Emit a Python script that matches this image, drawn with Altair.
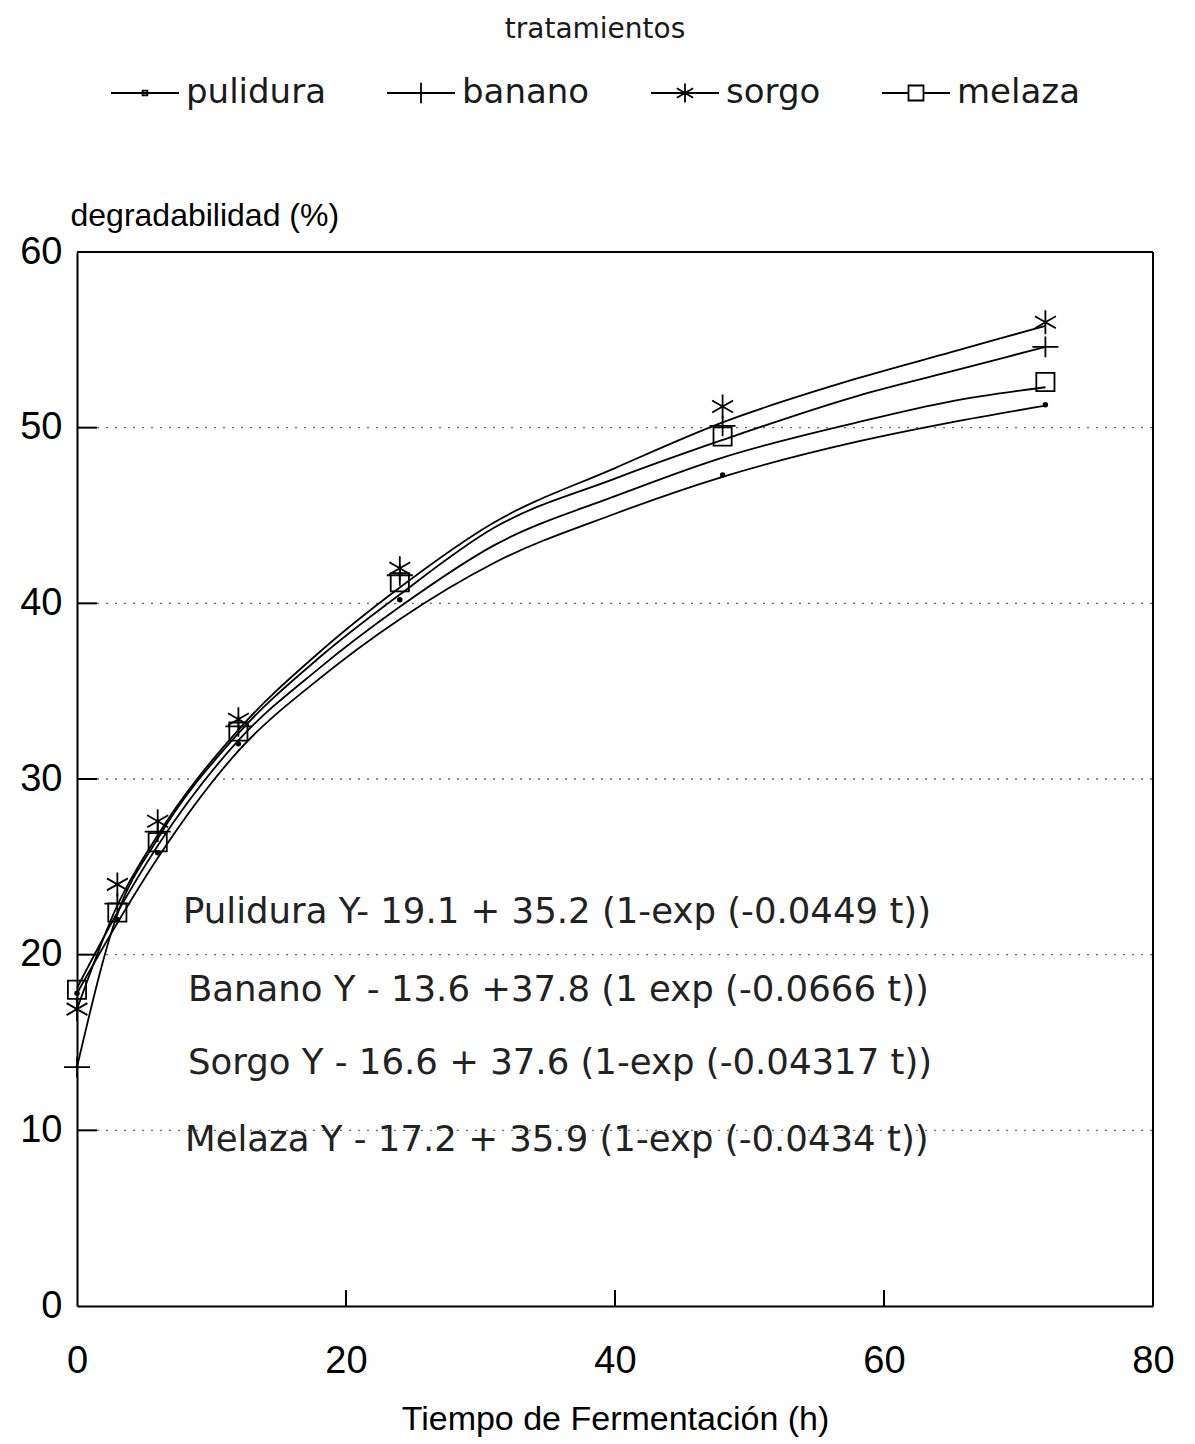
import altair as alt
import pandas as pd

treatments = ["pulidura", "banano", "sorgo", "melaza"]

# observed points (markers)
obs_t = [0, 3, 6, 12, 24, 48, 72]
obs_pulidura = [17.8, 22.0, 25.8, 32.0, 40.2, 47.3, 51.3]
obs_banano = [13.6, 22.9, 27.0, 33.0, 41.6, 50.1, 54.6]
obs_sorgo = [16.9, 24.0, 27.6, 33.4, 42.0, 51.2, 56.0]
obs_melaza = [18.0, 22.4, 26.4, 32.7, 41.2, 49.5, 52.6]

# fitted curves
fit_t = [0, 3, 6, 12, 18, 24, 31, 40, 48, 58, 65, 72]
fit_pulidura = [17.8, 21.8, 25.5, 31.6, 35.7, 39.1, 42.3, 45.1, 47.2, 49.2, 50.3, 51.25]
fit_banano = [13.6, 22.3, 26.6, 32.6, 36.9, 40.5, 44.3, 47.1, 49.3, 51.8, 53.2, 54.6]
fit_sorgo = [16.9, 22.8, 26.8, 32.8, 37.2, 40.9, 44.6, 47.7, 50.3, 52.8, 54.3, 55.8]
fit_melaza = [18.1, 22.4, 26.2, 32.2, 36.3, 39.8, 43.3, 46.1, 48.3, 50.3, 51.5, 52.3]

equations = [
    "Pulidura Y- 19.1 + 35.2 (1-exp (-0.0449 t))",
    "Banano Y - 13.6 +37.8 (1 exp (-0.0666 t))",
    "Sorgo Y - 16.6 + 37.6 (1-exp (-0.04317 t))",
    "Melaza Y - 17.2 + 35.9 (1-exp (-0.0434 t))",
]

y_ticks = [10, 20, 30, 40, 50]
x_ticks = [20, 40, 60]

obs_map = {"pulidura": obs_pulidura, "banano": obs_banano, "sorgo": obs_sorgo, "melaza": obs_melaza}
fit_map = {"pulidura": fit_pulidura, "banano": fit_banano, "sorgo": fit_sorgo, "melaza": fit_melaza}

obs_df = pd.DataFrame([
    {"trat": k, "t": t, "val": v}
    for k in treatments for t, v in zip(obs_t, obs_map[k])
])
fit_df = pd.DataFrame([
    {"trat": k, "t": t, "val": v}
    for k in treatments for t, v in zip(fit_t, fit_map[k])
])
ytick_df = pd.DataFrame({"val": y_ticks})
xtick_df = pd.DataFrame({"t": x_ticks})

W, H = 1076, 1054
FONT = "DejaVu Sans"
INK = "#1a1a1a"

X = alt.X(
    "t:Q",
    scale=alt.Scale(domain=[0, 80], nice=False, zero=False),
    axis=alt.Axis(
        title="Tiempo de Fermentación (h)",
        values=[0, 20, 40, 60, 80],
        format="d",
        tickSize=0,
        labelPadding=36,
        labelFontSize=38,
        labelFlush=False,
        labelOverlap=False,
        titleFontSize=34,
        titleFontWeight="normal",
        titlePadding=22,
        grid=False,
        domainColor="black",
        domainWidth=2,
    ),
)
Y = alt.Y(
    "val:Q",
    scale=alt.Scale(domain=[0, 60], nice=False, zero=False),
    axis=alt.Axis(
        title="degradabilidad (%)",
        values=[0, 10, 20, 30, 40, 50, 60],
        format="d",
        tickSize=0,
        labelPadding=15,
        labelFontSize=38,
        labelFlush=False,
        labelOverlap=False,
        titleFontSize=32,
        titleFontWeight="normal",
        titleAngle=0,
        titleAlign="left",
        titleBaseline="alphabetic",
        titleX=-7,
        titleY=-27,
        grid=False,
        domainColor="black",
        domainWidth=2,
    ),
)

grid_rules = alt.Chart(ytick_df).mark_rule(
    color="#666666", strokeWidth=1.3, strokeDash=[2, 7]
).encode(y=Y, x=alt.value(20), x2=alt.value(W))

lines = alt.Chart(fit_df).mark_line(
    color="black", strokeWidth=1.8, interpolate="monotone"
).encode(x=X, y=Y, detail="trat:N", order="t:Q")


def marker_layer(name, shape, size, filled):
    return alt.Chart(obs_df).transform_filter(
        alt.datum.trat == name
    ).mark_point(
        shape=shape, size=size, filled=filled, color="black",
        strokeWidth=1.8, opacity=1
    ).encode(x=X, y=Y)


m_pulidura = marker_layer("pulidura", "circle", 30, True)
m_banano = marker_layer("banano", "M-1,0H1M0,-0.8V0.8", 676, False)
m_sorgo = marker_layer("sorgo", "M0,-1V1M-0.87,-0.5L0.87,0.5M-0.87,0.5L0.87,-0.5", 576, False)
m_melaza = marker_layer("melaza", "M-1,-1H1V1H-1Z", 330, False)

legend_paths = [
    "M-1,0H1M-0.07,-0.07H0.07V0.07H-0.07Z",
    "M-1,0H1M0,-0.3V0.3",
    "M-1,0H1M0,-0.28V0.28M-0.24,-0.14L0.24,0.14M-0.24,0.14L0.24,-0.14",
    "M-1,0H-0.22M0.22,0H1M-0.22,-0.22H0.22V0.22H-0.22Z",
]
legend_layer = alt.Chart(obs_df).mark_point(opacity=0, color="black", filled=False).encode(
    x=X, y=Y,
    shape=alt.Shape(
        "trat:N",
        scale=alt.Scale(domain=treatments, range=legend_paths),
        legend=alt.Legend(
            title="tratamientos",
            orient="none",
            direction="horizontal",
            legendX=33,
            legendY=-236,
            padding=0,
            titleAnchor="middle",
            titleOrient="top",
            titleFontSize=28,
            titleFontWeight="normal",
            titleFont=FONT,
            titleColor=INK,
            titleLimit=600,
            titlePadding=14,
            labelFontSize=34,
            labelFont=FONT,
            labelColor=INK,
            labelLimit=400,
            labelOffset=6,
            columnPadding=57,
            symbolSize=4624,
            symbolOpacity=1,
            symbolStrokeColor="black",
            symbolFillColor="transparent",
            symbolStrokeWidth=1.8,
        ),
    ),
)

ytick_rules = alt.Chart(ytick_df).mark_rule(color="black", strokeWidth=2).encode(
    y=Y, x=alt.value(0), x2=alt.value(20)
)
xtick_rules = alt.Chart(xtick_df).mark_rule(color="black", strokeWidth=2).encode(
    x=X, y=alt.value(H), y2=alt.value(H - 16)
)
top_border = alt.Chart(ytick_df).mark_rule(color="black", strokeWidth=2).encode(
    x=alt.value(0), x2=alt.value(W), y=alt.value(0)
)
right_border = alt.Chart(ytick_df).mark_rule(color="black", strokeWidth=2).encode(
    x=alt.value(W), y=alt.value(0), y2=alt.value(H)
)

eq_pos = [(106, 660), (111, 738), (111, 811), (108, 888)]
eq_layers = [
    alt.Chart(pd.DataFrame({"txt": [txt]})).mark_text(
        align="left", baseline="middle", fontSize=35.5, font=FONT, color="#222222"
    ).encode(text="txt:N", x=alt.value(px), y=alt.value(py))
    for txt, (px, py) in zip(equations, eq_pos)
]

chart = alt.layer(
    legend_layer, grid_rules, lines, m_pulidura, m_banano, m_sorgo, m_melaza,
    ytick_rules, xtick_rules, top_border, right_border, *eq_layers
).resolve_scale(shape="independent").properties(
    width=W,
    height=H,
    autosize=alt.AutoSizeParams(type="none"),
    padding={"left": 69, "top": 244, "right": 30, "bottom": 170},
).configure_view(
    stroke="black", strokeWidth=2
).configure_axis(
    labelFont=FONT, titleFont=FONT, labelColor=INK, titleColor=INK
).configure(background="white")

chart.save("out.html", embed_options={"renderer": "svg", "actions": False})
